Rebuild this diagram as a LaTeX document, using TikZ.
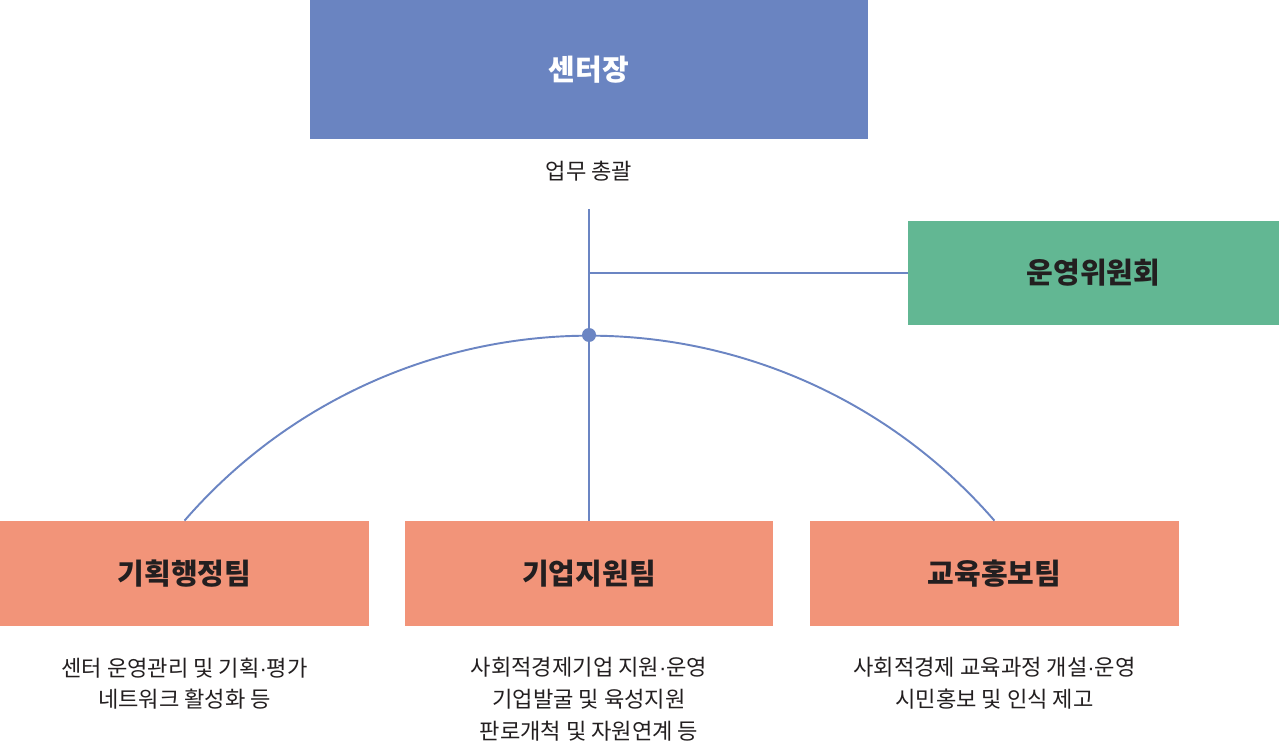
\documentclass[tikz,border=0pt]{standalone}
\usepackage{fontspec}
\setmainfont{Noto Sans CJK KR}
\newfontfamily\dotfont{Liberation Sans}
\usetikzlibrary{positioning}
\definecolor{chiefblue}{HTML}{6A84C1}
\definecolor{boardgreen}{HTML}{62B793}
\definecolor{teamorange}{HTML}{F29479}
\definecolor{linkblue}{HTML}{6B85C3}
\definecolor{ink}{HTML}{231F20}
\newcommand{\mdot}{{\dotfont ·}}

\begin{document}
\begin{tikzpicture}[x=0.02cm, y=-0.02cm,
  box/.style={inner sep=0, font=\fontsize{16.5}{20}\selectfont\bfseries, text=ink},
  team/.style={box, fill=teamorange, minimum width=7.38cm, minimum height=2.1cm},
  desc/.style={font=\fontsize{12.6}{18}\selectfont, text=ink, align=center, inner sep=0},
  link/.style={linkblue, line width=1.1pt}]
\useasboundingbox (0,0) rectangle (1279,743);
\node[box, fill=chiefblue, text=white, minimum width=11.16cm, minimum height=2.78cm] (chief) at (589,69.5) {센터장};
\node[desc] (duty) at (589,171) {업무 총괄};
\node[box, fill=boardgreen, minimum width=7.42cm, minimum height=2.08cm] (board) at (1093.5,273) {운영위원회};
\foreach \n/\x/\t in {t1/184.5/기획행정팀, t2/589/기업지원팀, t3/994.5/교육홍보팀}
  \node[team] (\n) at (\x,573.5) {\t};
\node[desc, below=0.62cm of t1] (d1) {센터 운영관리 및 기획\mdot 평가\\네트워크 활성화 등};
\node[desc, below=0.62cm of t2] (d2) {사회적경제기업 지원\mdot 운영\\기업발굴 및 육성지원\\판로개척 및 자원연계 등};
\node[desc, below=0.62cm of t3] (d3) {사회적경제 교육과정 개설\mdot 운영\\시민홍보 및 인식 제고};
% connectors
\coordinate (top) at (589,209);
\coordinate (hub) at (589,335);
\draw[link] (top) -- (hub) -- (t2.north);
\draw[link] (top |- board.west) -- (board.west);
\draw[link] (t1.north) arc[start angle=-139.1, end angle=-40.9, radius=535.8];
\fill[linkblue] (hub) circle[radius=7];
\end{tikzpicture}
\end{document}
